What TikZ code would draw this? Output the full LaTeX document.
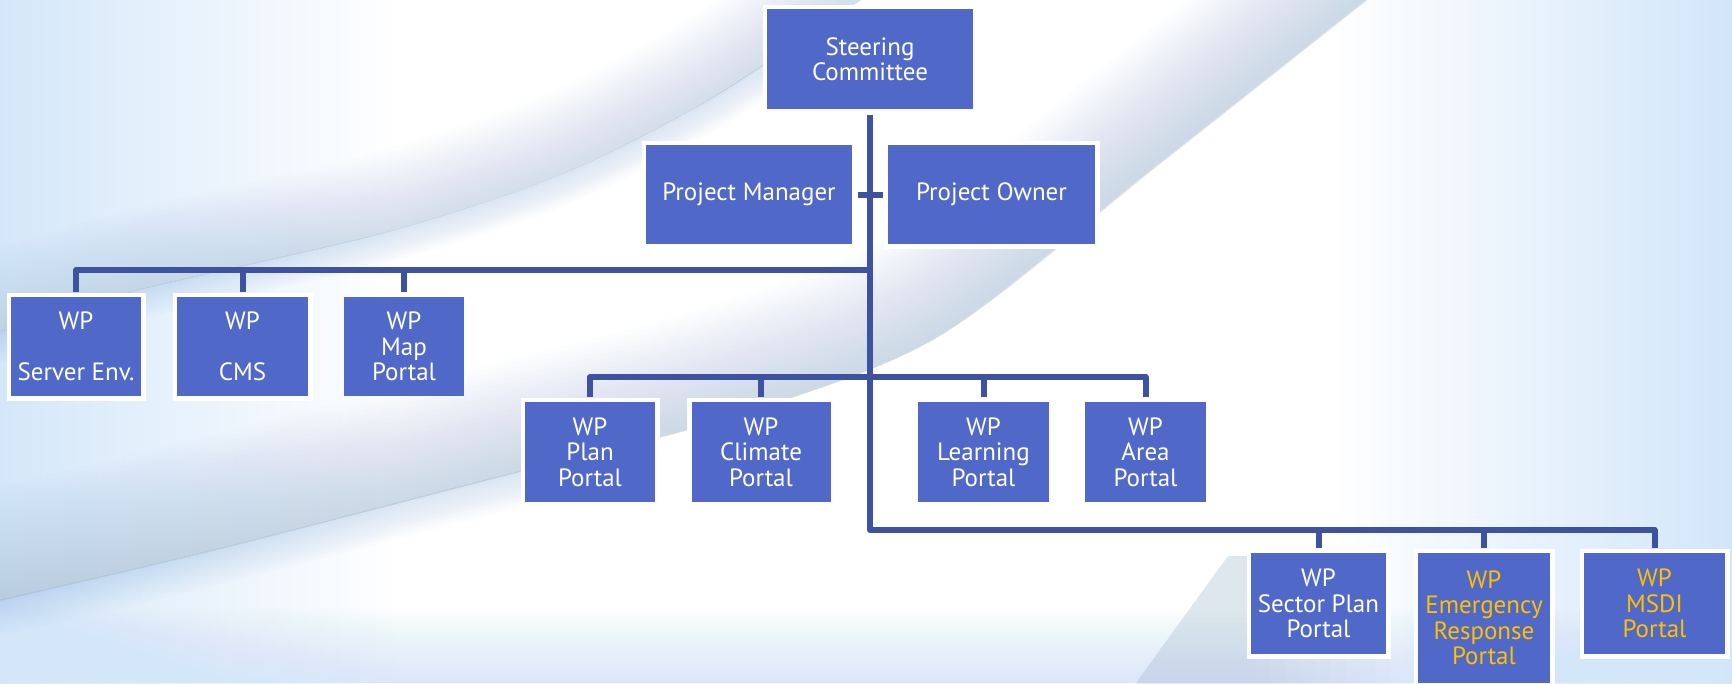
\documentclass[tikz,border=0pt]{standalone}
\usepackage{fontspec}
\setmainfont{PT Sans}
\definecolor{boxblue}{RGB}{80,104,200}
\definecolor{linkblue}{RGB}{62,82,162}
\definecolor{wpgold}{RGB}{255,192,0}
\definecolor{skyedge}{RGB}{212,231,249}
\definecolor{skyright}{RGB}{210,230,249}
\definecolor{bandgray}{RGB}{165,188,214}
\definecolor{bandblue}{RGB}{140,178,220}
\tikzset{
  box/.style={fill=boxblue, text=white, align=center, inner sep=0pt,
    font=\fontsize{25pt}{25.5pt}\selectfont},
  framed/.style={preaction={draw=white, line width=9pt}},
  gold/.style={text=wpgold},
  conn/.style={draw=linkblue, line width=6pt, line join=round},
}
\begin{document}
\begin{tikzpicture}[x=1pt,y=-1pt]
\useasboundingbox (0,0) rectangle (1732,683);

% ---- background ----
\fill[white] (0,0) rectangle (1732,683);
\shade[left color=skyedge, right color=white] (0,0) rectangle (400,683);
\shade[left color=white, right color=skyright] (1330,0) rectangle (1732,683);
\foreach \k in {1,...,25}
  \fill[skyedge, fill opacity=0.04] (0,683-3*\k) rectangle (1732,683);

% upper swoosh
\foreach \k in {1,...,20}{
  \pgfmathsetmacro{\s}{4*\k}
  \draw[bandgray, line width=\s pt, draw opacity=0.022,
        shift={(-0.37*\s/2,-0.93*\s/2)}]
    plot[smooth] coordinates {(-20,338) (138,290) (387,232) (560,175) (700,105) (800,40) (890,-20)};
}
\foreach \k in {1,...,10}{
  \pgfmathsetmacro{\s}{3*\k}
  \draw[bandblue, line width=\s pt, draw opacity=0.03,
        shift={(0.37*\s/2,0.93*\s/2)}]
    plot[smooth] coordinates {(-20,338) (138,290) (387,232) (560,175) (700,105) (800,40)};
}
% lower swoosh
\foreach \k in {1,...,25}{
  \pgfmathsetmacro{\s}{4.5*\k}
  \draw[bandgray, line width=\s pt, draw opacity=0.022,
        shift={(-0.40*\s/2,-0.915*\s/2)}]
    plot[smooth] coordinates {(1390,-20) (1150,170) (932,340) (720,420) (525,470) (221,548) (0,600) (-20,605)};
}
\foreach \k in {1,...,10}{
  \pgfmathsetmacro{\s}{3.5*\k}
  \draw[bandblue, line width=\s pt, draw opacity=0.03,
        shift={(0.27*\s/2,0.96*\s/2)}]
    plot[smooth] coordinates {(-20,605) (0,600) (221,548) (525,470) (640,445)};
}
% grey wedge low on the right
\foreach \k in {1,...,10}
  \fill[bandgray, fill opacity=0.035] (1131,690) -- (1228,556) -- (1240+15*\k,556) -- (1240+15*\k,690) -- cycle;

% ---- boxes ----
\node[box,framed,minimum width=206pt,minimum height=100pt] (sc) at (870,59) {Steering\\Committee};
\node[box,framed,minimum width=206pt,minimum height=99pt] (pm) at (749,194.5) {Project Manager};
\node[box,framed,minimum width=207pt,minimum height=99pt] (po) at (991.5,194.5) {Project Owner};

\node[box,framed,minimum width=130pt,minimum height=99pt] (wpserver) at (76,346.5) {WP\\~\\Server Env.};
\node[box,framed,minimum width=131pt,minimum height=99pt] (wpcms) at (242.5,346.5) {WP\\~\\CMS};
\node[box,minimum width=120pt,minimum height=99pt] (wpmap) at (404,346.5) {WP\\Map\\Portal};

\node[box,framed,minimum width=130pt,minimum height=100pt] (wpplan) at (590,452) {WP\\Plan\\Portal};
\node[box,framed,minimum width=139pt,minimum height=100pt] (wpclimate) at (761,452) {WP\\Climate\\Portal};
\node[box,minimum width=131pt,minimum height=100pt] (wplearning) at (983.5,452) {WP\\Learning\\Portal};
\node[box,minimum width=121pt,minimum height=100pt] (wparea) at (1145.5,452) {WP\\Area\\Portal};

\node[box,framed,minimum width=135pt,minimum height=101pt] (wpsector) at (1318.5,603.5) {WP\\Sector Plan\\Portal};
\node[box,framed,gold,minimum width=132pt,minimum height=130pt] (wpemergency) at (1484,618) {WP\\Emergency\\Response\\Portal};
\node[box,framed,gold,minimum width=141pt,minimum height=101pt] (wpmsdi) at (1654.5,603.5) {WP\\MSDI\\Portal};

% ---- connectors ----
\coordinate (busL) at (870,270);
\coordinate (busM) at (870,377);
\coordinate (busB) at (870,530);

\draw[conn] ([yshift=-6pt]sc.south) -- (busB) -| ([yshift=5pt]wpmsdi.north);
\draw[conn] ([xshift=6pt]pm.east) -- ([xshift=-5pt]po.west);

\draw[conn] ([yshift=5pt]wpserver.north) |- (busL);
\draw[conn] ([yshift=5pt]wpcms.north) -- (wpcms.north |- busL);
\draw[conn] ([yshift=5pt]wpmap.north) -- (wpmap.north |- busL);

\draw[conn] ([yshift=5pt]wpplan.north) |- (busM) -| ([yshift=5pt]wparea.north);
\draw[conn] ([yshift=5pt]wpclimate.north) -- (wpclimate.north |- busM);
\draw[conn] ([yshift=5pt]wplearning.north) -- (wplearning.north |- busM);

\draw[conn] ([yshift=5pt]wpsector.north) -- (wpsector.north |- busB);
\draw[conn] ([yshift=5pt]wpemergency.north) -- (wpemergency.north |- busB);
\end{tikzpicture}
\end{document}
